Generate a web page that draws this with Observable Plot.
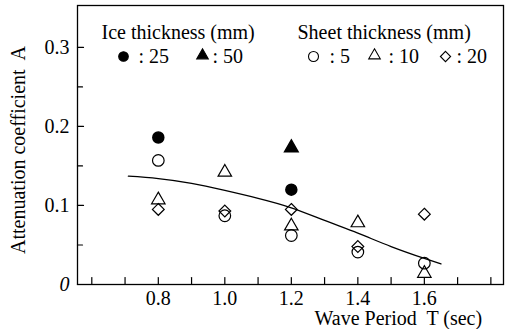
<!DOCTYPE html>
<html><head><meta charset="utf-8">
<script src="https://cdn.jsdelivr.net/npm/d3@7"></script>
<script src="https://cdn.jsdelivr.net/npm/@observablehq/plot@0.6"></script>
<style>body{margin:0;background:#fff} svg{display:block}</style>
</head><body><div id="chart"></div>
<script>
// Data
const ice25T = [0.8, 1.2];
const ice25A = [0.186, 0.120];
const ice50T = [1.2];
const ice50A = [0.173];
const sheet5T = [0.8, 1.0, 1.2, 1.4, 1.6];
const sheet5A = [0.157, 0.087, 0.062, 0.041, 0.027];
const sheet10T = [0.8, 1.0, 1.2, 1.4, 1.6];
const sheet10A = [0.107, 0.142, 0.074, 0.078, 0.014];
const sheet20T = [0.8, 1.0, 1.2, 1.4, 1.6];
const sheet20A = [0.095, 0.093, 0.095, 0.048, 0.089];
const fitT = [0.71, 0.8, 0.9, 1.0, 1.1, 1.2, 1.3, 1.4, 1.5, 1.6, 1.65];
const fitA = [0.137, 0.134, 0.128, 0.119, 0.109, 0.097, 0.081, 0.065, 0.048, 0.033, 0.026];

const xLabelTicks = [0.8, 1.0, 1.2, 1.4, 1.6];
const xTickMarks = [0.6, 0.7, 0.8, 0.9, 1.0, 1.1, 1.2, 1.3, 1.4, 1.5, 1.6, 1.7, 1.8];
const yLabelTicks = [0.1, 0.2, 0.3];
const yMajorTicks = [0, 0.1, 0.2, 0.3];
const yMinorTicks = [0.05, 0.15, 0.25];
const xDomain = [0.557, 1.838];
const yDomain = [0, 0.353];

const legendTitles = ["Ice thickness (mm)", "Sheet thickness (mm)"];
const legendLabels = [": 25", ": 50", ": 5", ": 10", ": 20"];
const xTitle = "Wave Period  T (sec)";
const yTitle = "Attenuation coefficient  A";

const pts = (T, A) => T.map((t, i) => ({t, a: A[i]}));
const font = "Liberation Serif, Times New Roman, serif";
const fs = 20;
const lineShape = {draw(ctx, l) { ctx.moveTo(0, 0); ctx.lineTo(0, -l); }};

const tx = (text, o) => Plot.text([text], {text: d => d, frameAnchor: "top-left", textAnchor: "start", lineAnchor: "middle", fontSize: fs, fill: "black", ...o});
const sym = (symbol, fill, r, o) => Plot.dot([0], {frameAnchor: "top-left", symbol, fill, stroke: "black", strokeWidth: 1.1, r, ...o});

const chart = Plot.plot({
  width: 511, height: 329,
  marginLeft: 77, marginRight: 8, marginTop: 5, marginBottom: 45,
  style: {fontFamily: font, fontSize: fs + "px", background: "white", color: "black"},
  x: {domain: xDomain},
  y: {domain: yDomain},
  marks: [
    Plot.frame({stroke: "black", strokeWidth: 1.3}),
    // inward ticks
    Plot.vector(xTickMarks, {x: d => d, y: d => yDomain[0], length: 7, rotate: 0, anchor: "start", shape: lineShape, stroke: "black", strokeWidth: 1.2}),
    Plot.vector(yMajorTicks, {x: d => xDomain[0], y: d => d, length: 6, rotate: 90, anchor: "start", shape: lineShape, stroke: "black", strokeWidth: 1.2}),
    Plot.vector(yMinorTicks, {x: d => xDomain[0], y: d => d, length: 5, rotate: 90, anchor: "start", shape: lineShape, stroke: "black", strokeWidth: 1.2}),
    Plot.axisX(xLabelTicks, {tickSize: 0, tickPadding: 6, tickFormat: d3.format(".1f"), fontSize: fs, label: null}),
    Plot.axisY(yLabelTicks, {tickSize: 0, tickPadding: 8, tickFormat: d3.format(".1f"), fontSize: fs, label: null}),
    Plot.text([0], {x: d => xDomain[0], y: d => d, text: d => String(d), textAnchor: "end", dx: -8, fontStyle: "italic", fontSize: fs}),
    // titles
    Plot.text([xTitle], {text: d => d, frameAnchor: "bottom-left", textAnchor: "start", lineAnchor: "middle", dx: 237, dy: 34, fontSize: fs}),
    Plot.text([yTitle], {text: d => d, frameAnchor: "left", textAnchor: "middle", rotate: -90, lineAnchor: "middle", dx: -59, dy: 5, fontSize: fs}),
    // fit curve
    Plot.line(pts(fitT, fitA), {x: "t", y: "a", curve: "natural", stroke: "black", strokeWidth: 1.3}),
    // data
    Plot.dot(pts(sheet5T, sheet5A), {x: "t", y: "a", symbol: "circle", r: 5.8, fill: "none", stroke: "black", strokeWidth: 1.2}),
    Plot.dot(pts(sheet10T, sheet10A), {x: "t", y: "a", symbol: "triangle", r: 5, fill: "none", stroke: "black", strokeWidth: 1.2}),
    Plot.dot(pts(sheet20T, sheet20A), {x: "t", y: "a", symbol: "diamond2", r: 5.3, fill: "none", stroke: "black", strokeWidth: 1.2}),
    Plot.dot(pts(ice25T, ice25A), {x: "t", y: "a", symbol: "circle", r: 5.5, fill: "black", stroke: "black"}),
    Plot.dot(pts(ice50T, ice50A), {x: "t", y: "a", symbol: "triangle", r: 5, fill: "black", stroke: "black"}),
    // legend
    tx(legendTitles[0], {dx: 24, dy: 27}),
    tx(legendTitles[1], {dx: 220, dy: 27}),
    sym("circle", "black", 4.8, {dx: 46, dy: 51}),
    tx(legendLabels[0], {dx: 61, dy: 51}),
    sym("triangle", "black", 4.3, {dx: 125, dy: 50}),
    tx(legendLabels[1], {dx: 135, dy: 51}),
    sym("circle", "none", 5, {dx: 236, dy: 51}),
    tx(legendLabels[2], {dx: 252, dy: 51}),
    sym("triangle", "none", 4.3, {dx: 297, dy: 50}),
    tx(legendLabels[3], {dx: 311, dy: 51}),
    sym("diamond2", "none", 4.6, {dx: 368, dy: 51}),
    tx(legendLabels[4], {dx: 379, dy: 51})
  ]
});
document.getElementById("chart").appendChild(chart);
</script>
</body></html>
